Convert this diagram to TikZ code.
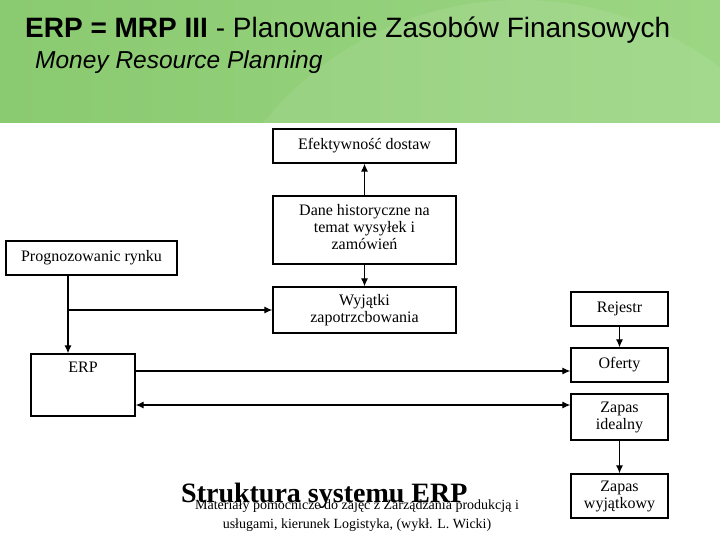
\documentclass[tikz,border=0pt]{standalone}
\usepackage{fontspec}
\setmainfont{Liberation Serif}
\newfontfamily\arialfont{Liberation Sans}
\usetikzlibrary{arrows.meta}
\definecolor{hdrgreen}{RGB}{156,214,132}
\definecolor{hdrdark}{RGB}{138,202,112}
\tikzset{
  box/.style={draw=black, line width=1.3pt, fill=white, align=center, inner sep=1pt,
    font=\fontsize{16}{17}\selectfont, minimum width=183pt},
  rbox/.style={box, minimum width=97pt},
  conn/.style={line width=1.2pt, -{Latex[length=8pt,width=7pt]}},
  conn2/.style={line width=1.2pt, {Latex[length=8pt,width=7pt]}-{Latex[length=8pt,width=7pt]}},
}
\begin{document}
\begin{tikzpicture}[x=1pt,y=-1pt]
\useasboundingbox (0,0) rectangle (720,540);
\fill[white] (0,0) rectangle (720,540);
% header
\begin{scope}
\clip (0,0) rectangle (720,123);
\shade[left color=hdrdark, right color=hdrgreen] (0,0) rectangle (720,123);
\fill[white, opacity=0.08] (520,330) circle (330);
\end{scope}
\node[anchor=base west, inner sep=0, font=\arialfont\fontsize{28}{32}\selectfont] (title) at (25,38)
  {\textbf{ERP = MRP III} - Planowanie Zasobów Finansowych};
\node[anchor=base west, inner sep=0, font=\arialfont\itshape\fontsize{24.5}{28}\selectfont] (sub) at (35,69)
  {Money Resource Planning};
% boxes
\node[box, minimum height=34pt] (eff) at (364.5,146) {Efektywność dostaw};
\node[box, minimum height=68pt, text depth=6pt] (dane) at (364.5,230) {Dane historyczne na\\temat wysyłek i\\zamówień};
\node[box, minimum width=171pt, minimum height=34pt] (prog) at (91.5,258) {Prognozowanic rynku};
\node[box, minimum height=46pt] (wyj) at (364.5,310) {Wyjątki\\zapotrzcbowania};
\node[box, minimum width=104pt, minimum height=62pt,
  label={[anchor=north, yshift=-8pt, font=\fontsize{16}{17}\selectfont, inner sep=0]north:ERP}] (erp) at (83,385) {};
\node[rbox, minimum height=34pt] (rej) at (619.5,309) {Rejestr};
\node[rbox, minimum height=34pt] (ofe) at (619.5,365) {Oferty};
\node[rbox, minimum height=46pt] (zid) at (619.5,417) {Zapas\\idealny};
\node[rbox, minimum height=44pt] (zwy) at (619.5,496) {Zapas\\wyjątkowy};
% connectors
\draw[conn] (dane) -- (eff);
\draw[conn] (dane) -- (wyj);
\coordinate (j) at (68,310);
\draw[line width=1.2pt] (prog.south -| j) -- (j);
\draw[conn] (j) -- (erp.north -| j);
\draw[conn] (j) -- (wyj.west);
\coordinate (o1) at ([yshift=-6pt]ofe.west);
\draw[conn] (erp.east |- o1) -- (o1);
\coordinate (z1) at ([yshift=12pt]zid.west);
\draw[conn2] (erp.east |- z1) -- (z1);
\draw[conn] (rej) -- (ofe);
\draw[conn] (zid) -- (zwy);
% footer
\node[anchor=base west, inner sep=0, font=\bfseries\fontsize{28}{30}\selectfont] (struk) at (181,502) {Struktura systemu ERP};
\node[anchor=base, inner sep=0, font=\fontsize{14}{19}\selectfont] (foot1) at (357,509)
  {Materiały pomocnicze do zajęć z Zarządzania produkcją i};
\node[anchor=base, inner sep=0, font=\fontsize{14}{19}\selectfont] (foot2) at (357,528)
  {usługami, kierunek Logistyka, (wykł. L. Wicki)};
\end{tikzpicture}
\end{document}
